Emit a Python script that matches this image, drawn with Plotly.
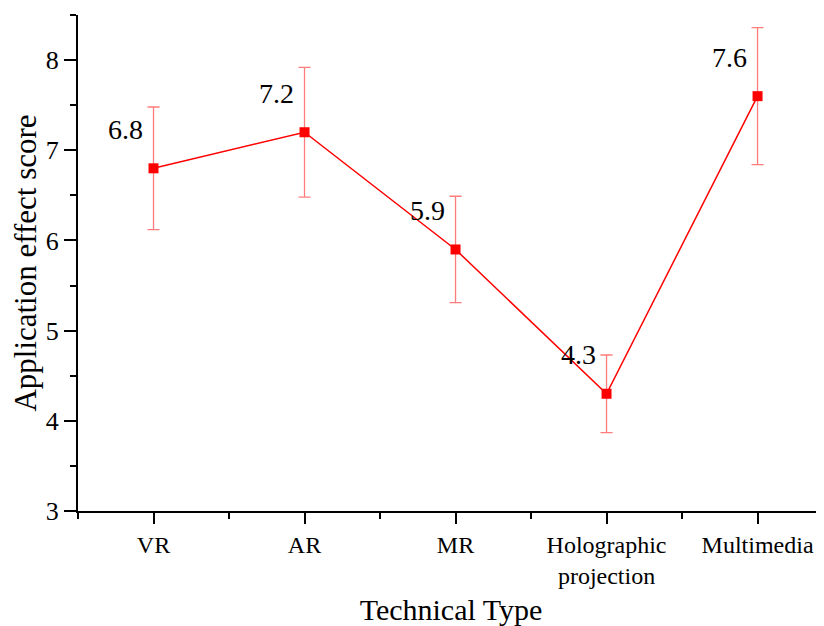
import plotly.graph_objects as go

categories = ["VR", "AR", "MR", "Holographic<br>projection", "Multimedia"]
scores = [6.8, 7.2, 5.9, 4.3, 7.6]
errors = [0.68, 0.72, 0.59, 0.43, 0.76]
y_ticks = [3, 4, 5, 6, 7, 8]

xpos = list(range(len(categories)))
font_family = "Liberation Serif"

fig = go.Figure()
fig.add_trace(go.Scatter(
    x=xpos, y=scores,
    mode="lines+markers",
    line=dict(color="#ff0000", width=1.5),
    marker=dict(symbol="square", size=10, color="#ff0000"),
    error_y=dict(type="data", array=errors, visible=True,
                 color="rgba(255,80,80,0.75)", thickness=1.3, width=6),
    showlegend=False,
    hoverinfo="skip",
))

for xi, v in zip(xpos, scores):
    fig.add_annotation(x=xi, y=v, xref="x", yref="y", text=f"{v:.1f}",
                       showarrow=False, xshift=-28, yshift=39,
                       font=dict(family=font_family, size=28, color="black"))

fig.update_layout(
    width=816, height=618,
    margin=dict(l=70, r=0, t=7, b=115),
    paper_bgcolor="white", plot_bgcolor="white",
    font=dict(family=font_family, color="black"),
)
fig.update_xaxes(
    range=[-0.5, 4.44], automargin=False,
    tickmode="array", tickvals=xpos, ticktext=categories,
    showline=True, linecolor="black", linewidth=2,
    ticks="outside", ticklen=11, tickwidth=2, tickcolor="black",
    minor=dict(tickmode="linear", tick0=-0.5, dtick=1, ticks="outside",
               ticklen=6, tickwidth=2, tickcolor="black", showgrid=False),
    showgrid=False, zeroline=False,
    tickfont=dict(family=font_family, size=24),
    title=dict(text="Technical Type", font=dict(family=font_family, size=30), standoff=11),
)
fig.update_yaxes(
    range=[3, 8.5], automargin=False,
    tickmode="array", tickvals=y_ticks,
    showline=True, linecolor="black", linewidth=2,
    ticks="outside", ticklen=12, tickwidth=2, tickcolor="black",
    minor=dict(tickmode="linear", tick0=3, dtick=0.5, ticks="outside",
               ticklen=6, tickwidth=2, tickcolor="black", showgrid=False),
    showgrid=False, zeroline=False,
    tickfont=dict(family=font_family, size=26),
    title=dict(text="Application effect score", font=dict(family=font_family, size=31), standoff=7),
)

fig.write_html("out.html")
